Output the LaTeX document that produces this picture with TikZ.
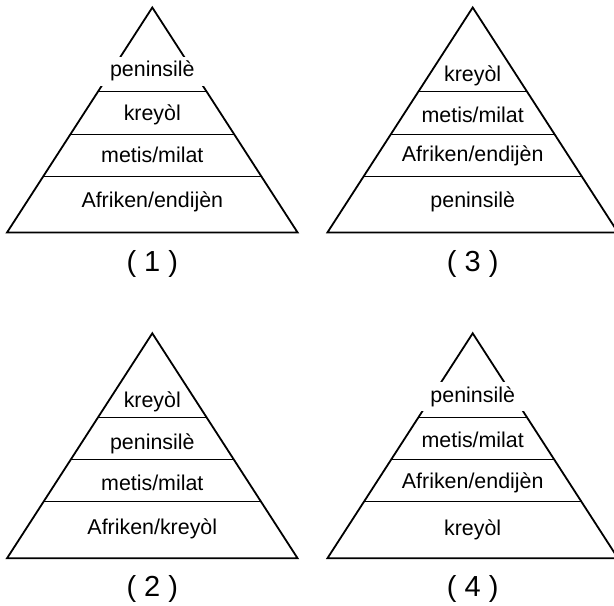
\documentclass[tikz,border=0pt]{standalone}
\usepackage{fontspec}
\setmainfont{Liberation Sans}
\usetikzlibrary{positioning}

\tikzset{
  layer/.style={font=\fontsize{10.7}{12}\selectfont, anchor=mid},
  caption/.style={font=\fontsize{14.5}{17}\selectfont},
  outline/.style={line width=0.9pt},
  divider/.style={line width=0.5pt},
  gapbox/.style={font=\fontsize{10.7}{12}\selectfont, fill=white, minimum width=53pt, minimum height=14.5pt, inner sep=0pt}
}

\begin{document}
\begin{tikzpicture}[x=0.5pt, y=-0.5pt]
  \useasboundingbox (0,0) rectangle (614,605);

  % Pyramid (1)
  \begin{scope}[shift={(152.3,7.5)}]
    \draw[outline] (0,0) -- (145.3,225) -- (-145.3,225) -- cycle;
    \draw[divider] (-54.3,84) -- (54.3,84);
    \draw[divider] (-81.7,126.5) -- (81.7,126.5);
    \draw[divider] (-108.9,168.5) -- (108.9,168.5);
    \node[gapbox] (p1a) at (0,63.5) {peninsilè};
    \node[layer] (p1b) at (0,108) {kreyòl};
    \node[layer] (p1c) at (0,150) {metis/milat};
    \node[layer] (p1d) at (0,195) {Afriken/endijèn};
    \node[caption] (p1n) at (0,256) {( 1 )};
  \end{scope}

  % Pyramid (3)
  \begin{scope}[shift={(472.7,7.5)}]
    \draw[outline] (0,0) -- (145.3,225) -- (-145.3,225) -- cycle;
    \draw[divider] (-54.3,84) -- (54.3,84);
    \draw[divider] (-81.7,126.5) -- (81.7,126.5);
    \draw[divider] (-108.9,168.5) -- (108.9,168.5);
    \node[layer] (p3a) at (0,68.5) {kreyòl};
    \node[layer] (p3b) at (0,109.5) {metis/milat};
    \node[layer] (p3c) at (0,149) {Afriken/endijèn};
    \node[layer] (p3d) at (0,195) {peninsilè};
    \node[caption] (p3n) at (0,256) {( 3 )};
  \end{scope}

  % Pyramid (2)
  \begin{scope}[shift={(152.3,333.3)}]
    \draw[outline] (0,0) -- (145.3,225) -- (-145.3,225) -- cycle;
    \draw[divider] (-54.3,84) -- (54.3,84);
    \draw[divider] (-81.7,126.5) -- (81.7,126.5);
    \draw[divider] (-108.9,168.5) -- (108.9,168.5);
    \node[layer] (p2a) at (0,69) {kreyòl};
    \node[layer] (p2b) at (0,111) {peninsilè};
    \node[layer] (p2c) at (0,152) {metis/milat};
    \node[layer] (p2d) at (0,196) {Afriken/kreyòl};
    \node[caption] (p2n) at (0,256) {( 2 )};
  \end{scope}

  % Pyramid (4)
  \begin{scope}[shift={(472.7,333.3)}]
    \draw[outline] (0,0) -- (145.3,225) -- (-145.3,225) -- cycle;
    \draw[divider] (-54.3,84) -- (54.3,84);
    \draw[divider] (-81.7,126.5) -- (81.7,126.5);
    \draw[divider] (-108.9,168.5) -- (108.9,168.5);
    \node[gapbox] (p4a) at (0,63.5) {peninsilè};
    \node[layer] (p4b) at (0,108.5) {metis/milat};
    \node[layer] (p4c) at (0,149.5) {Afriken/endijèn};
    \node[layer] (p4d) at (0,197) {kreyòl};
    \node[caption] (p4n) at (0,256) {( 4 )};
  \end{scope}
\end{tikzpicture}
\end{document}
